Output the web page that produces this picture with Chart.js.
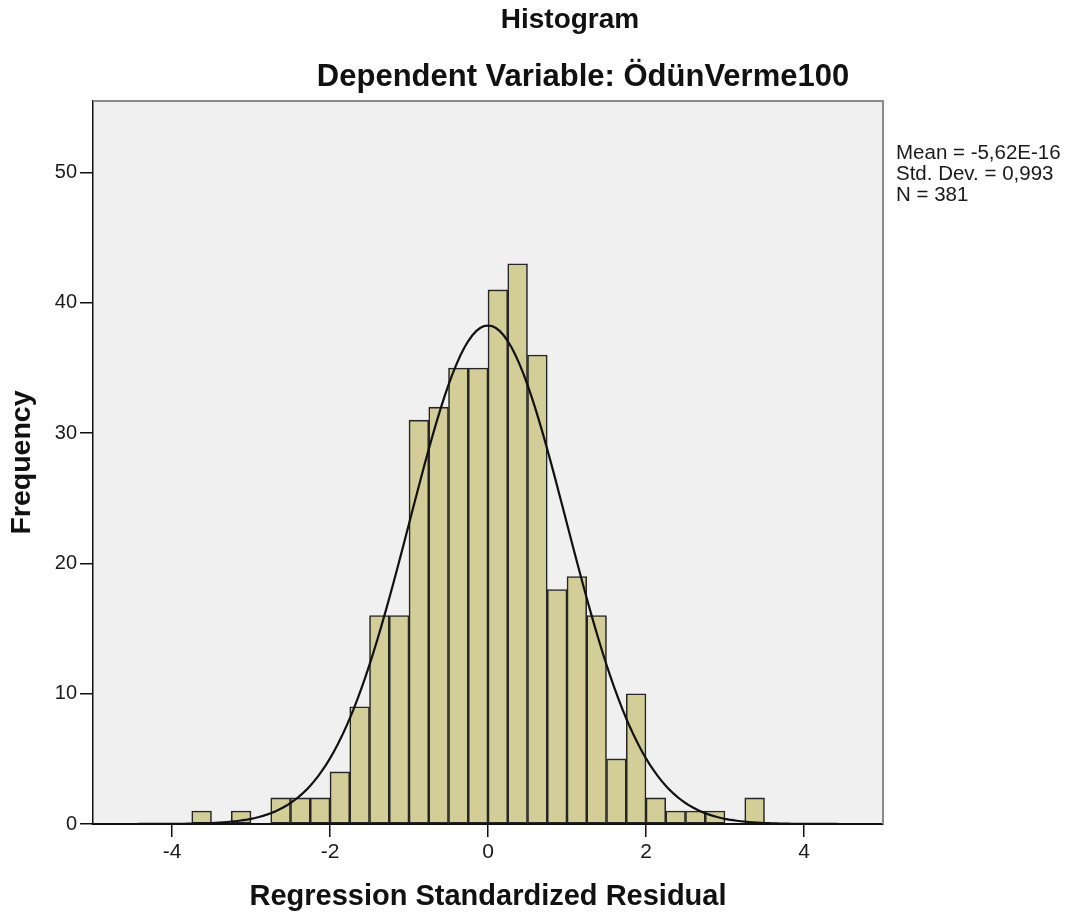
<!DOCTYPE html>
<html>
<head>
<meta charset="utf-8">
<script src="https://cdn.jsdelivr.net/npm/chart.js@4"></script>
<style>
  html, body { margin: 0; padding: 0; background: #ffffff; }
  #wrap { position: relative; width: 1074px; height: 919px; }
  canvas { display: block; }
</style>
</head>
<body>
<div id="wrap"><canvas id="c" width="1074" height="919"></canvas></div>
<script>
// ---- data ----
const binStarts = [-3.75, -3.5, -3.25, -3.0, -2.75, -2.5, -2.25, -2.0, -1.75, -1.5, -1.25, -1.0, -0.75, -0.5, -0.25,
                   0.0, 0.25, 0.5, 0.75, 1.0, 1.25, 1.5, 1.75, 2.0, 2.25, 2.5, 2.75, 3.0, 3.25];
const frequencies = [1, 0, 1, 0, 2, 2, 2, 4, 9, 16, 16, 31, 32, 35, 35,
                     41, 43, 36, 18, 19, 16, 5, 10, 2, 1, 1, 1, 0, 2];
const binWidth = 0.25;
const xTicks = [-4, -2, 0, 2, 4];
const yTicks = [0, 10, 20, 30, 40, 50];
const statMean = -5.62e-16;
const statSD = 0.993;
const statN = 381;
const statLines = ["Mean = -5,62E-16", "Std. Dev. = 0,993", "N = 381"];
const titleLines = ["Histogram", "Dependent Variable: ÖdünVerme100"];
const xTitle = "Regression Standardized Residual";
const yTitle = "Frequency";

// bars placed at bin centres
const barData = binStarts.map((s, i) => ({ x: s + binWidth / 2, y: frequencies[i] }));

// normal curve overlay defined by the stated mean / std. dev. / N
const curveData = [];
for (let k = 0; k <= 200; k++) {
  const x = -5 + k * 0.05;
  const z = (x - statMean) / statSD;
  curveData.push({ x: x, y: statN * binWidth * Math.exp(-0.5 * z * z) / (statSD * Math.sqrt(2 * Math.PI)) });
}

const FONT = "'Liberation Sans', Arial, sans-serif";

const decor = {
  id: 'decor',
  beforeDraw(chart) {
    const { ctx, chartArea: a } = chart;
    ctx.save();
    ctx.fillStyle = '#f0f0f0';
    ctx.fillRect(a.left, a.top, a.right - a.left, a.bottom - a.top);
    ctx.restore();
  },
  afterDraw(chart) {
    const { ctx, chartArea: a } = chart;
    ctx.save();
    // frame: top and right in gray
    ctx.strokeStyle = '#8a8a8a';
    ctx.lineWidth = 2;
    ctx.beginPath();
    ctx.moveTo(a.left, a.top);
    ctx.lineTo(a.right, a.top);
    ctx.lineTo(a.right, a.bottom);
    ctx.stroke();
    // titles
    ctx.fillStyle = '#111111';
    ctx.textAlign = 'center';
    ctx.textBaseline = 'alphabetic';
    ctx.font = 'bold 28px ' + FONT;
    ctx.fillText(titleLines[0], 570, 28);
    ctx.font = 'bold 31px ' + FONT;
    ctx.fillText(titleLines[1], 583, 86);
    // statistics text
    ctx.textAlign = 'left';
    ctx.font = '20.5px ' + FONT;
    ctx.fillStyle = '#1a1a1a';
    statLines.forEach((t, i) => ctx.fillText(t, 896, 159 + i * 21));
    ctx.restore();
  }
};

new Chart(document.getElementById('c'), {
  type: 'bar',
  data: {
    datasets: [
      {
        type: 'line',
        data: curveData,
        borderColor: '#111111',
        borderWidth: 2.2,
        pointRadius: 0,
        tension: 0,
        fill: false,
        order: 0
      },
      {
        type: 'bar',
        data: barData,
        backgroundColor: '#d3ce98',
        borderColor: '#262626',
        borderWidth: 1.6,
        borderSkipped: false,
        barPercentage: 1.0,
        categoryPercentage: 1.0,
        order: 1
      }
    ]
  },
  options: {
    responsive: false,
    animation: false,
    devicePixelRatio: 1,
    layout: { padding: { top: 101, right: 191, left: 0, bottom: 0 } },
    plugins: { legend: { display: false }, tooltip: { enabled: false }, title: { display: false } },
    scales: {
      x: {
        type: 'linear',
        min: -5,
        max: 5,
        offset: false,
        afterBuildTicks(s) { s.ticks = xTicks.map(v => ({ value: v })); },
        afterFit(s) { s.height = 95; },
        grid: { display: true, offset: false, drawOnChartArea: false, drawTicks: true, tickLength: 13, color: '#111111', lineWidth: 1.5 },
        border: { display: true, color: '#111111', width: 2 },
        ticks: { color: '#1a1a1a', font: { family: FONT, size: 21 }, padding: 3, maxRotation: 0, autoSkip: false },
        title: { display: true, text: xTitle, color: '#111111', font: { family: FONT, size: 29, weight: 'bold' }, padding: { top: 0, bottom: 5 } }
      },
      y: {
        type: 'linear',
        min: 0,
        max: 55.5,
        afterBuildTicks(s) { s.ticks = yTicks.map(v => ({ value: v })); },
        afterFit(s) { s.width = 93; },
        grid: { display: true, drawOnChartArea: false, drawTicks: true, tickLength: 13, color: '#111111', lineWidth: 1.5 },
        border: { display: true, color: '#111111', width: 1.5 },
        ticks: { color: '#1a1a1a', font: { family: FONT, size: 20 }, padding: 3, autoSkip: false },
        title: { display: true, text: yTitle, color: '#111111', font: { family: FONT, size: 28.5, weight: 'bold' }, padding: { top: 5, bottom: 0 } }
      }
    }
  },
  plugins: [decor]
});
</script>
</body>
</html>
